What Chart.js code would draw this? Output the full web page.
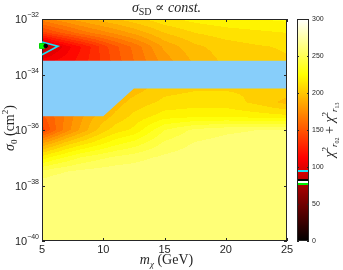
<!DOCTYPE html>
<html>
<head>
<meta charset="utf-8">
<script src="https://cdn.jsdelivr.net/npm/chart.js@4.4.0/dist/chart.umd.min.js"></script>
<style>
  html, body { margin: 0; padding: 0; background: #fff; }
  canvas { display: block; }
</style>
</head>
<body>
<canvas id="chart" width="343" height="270"></canvas>
<script>
// grid of the chi2 scan
const massGrid = [5, 6, 7, 8, 9, 10, 11, 12.5, 15, 17.5, 20, 22.5, 25];
const logSigmaGrid = [-40, -38, -37.5, -37, -36.5, -36, -35.5, -35, -34.5, -33.5, -33, -32.5, -32];
const chi2Grid = [
  [262, 262, 262, 262, 262, 262, 262, 262, 262, 262, 262, 262, 262],
  [262, 262, 262, 262, 262, 262, 262, 262, 262, 262, 262, 262, 262],
  [250, 254, 256, 258, 259, 260, 261, 261, 262, 262, 262, 262, 262],
  [220, 228, 234, 240, 244, 247, 250, 253, 258, 261, 262, 262, 262],
  [186, 195, 205, 212, 218, 224, 230, 236, 250, 257, 260, 261, 261],
  [140, 158, 172, 184, 195, 205, 212, 218, 240, 250, 254, 256, 256],
  [150, 160, 170, 180, 190, 196, 202, 210, 220, 222, 222, 220, 218],
  [150, 160, 170, 178, 185, 190, 196, 203, 210, 212, 212, 206, 197],
  [150, 160, 170, 178, 185, 190, 194, 196, 205, 207, 207, 207, 206],
  [108, 112, 116, 122, 130, 138, 148, 160, 180, 194, 202, 205, 207],
  [ 76,  96, 108, 118, 128, 140, 150, 162, 186, 198, 204, 207, 209],
  [140, 148, 155, 162, 168, 173, 178, 186, 200, 208, 212, 214, 216],
  [172, 178, 183, 188, 192, 196, 200, 205, 214, 219, 222, 224, 226]
];

// excluded (light blue) region
const excludedMass = [5, 25, 25, 12.5, 10, 5];
const excludedLogSigma = [-33.5, -33.5, -34.5, -34.5, -35.5, -35.5];

// cyan contour and best fit points
const contourMass = [5, 6.3, 5];
const contourLogSigma = [-32.83, -32.98, -33.29];
const bestFitPoint = [5.3, -32.97];
const greenPoint = [5, -32.97];

// ticks
const xTicks = [5, 10, 15, 20, 25];
const yTickExponents = [-40, -38, -36, -34, -32];
const cbTicks = [0, 50, 100, 150, 200, 250, 300];
const cbMarkerValues = [95, 82.5, 79.5, 77];
const cbMarkerColors = ['#19e1f5', '#000000', '#ffffff', '#00f000'];

const levelStep = 8;
const sans = '"Liberation Sans", Arial, sans-serif';
const serif = '"Liberation Serif", "DejaVu Serif", serif';
const axisColor = '#262626';

function hot(t) {
    t = Math.max(0, Math.min(1, t));
    const r = Math.min(1, t / 0.375);
    const g = Math.max(0, Math.min(1, (t - 0.375) / 0.375));
    const b = Math.max(0, Math.min(1, (t - 0.75) / 0.25));
    return [Math.round(r * 255), Math.round(g * 255), Math.round(b * 255)];
}

function findIdx(arr, v) {
    for (let i = 0; i < arr.length - 2; i++) {
        if (v < arr[i + 1]) return i;
    }
    return arr.length - 2;
}

// bilinear lookup in the scan grid
function chi2At(m, ls) {
    const i = findIdx(massGrid, m);
    const j = findIdx(logSigmaGrid, ls);
    let tx = (m - massGrid[i]) / (massGrid[i + 1] - massGrid[i]);
    let ty = (ls - logSigmaGrid[j]) / (logSigmaGrid[j + 1] - logSigmaGrid[j]);
    tx = Math.max(0, Math.min(1, tx));
    ty = Math.max(0, Math.min(1, ty));
    const a = chi2Grid[j][i], b = chi2Grid[j][i + 1];
    const c = chi2Grid[j + 1][i], d = chi2Grid[j + 1][i + 1];
    return (a * (1 - tx) + b * tx) * (1 - ty) + (c * (1 - tx) + d * tx) * ty;
}

function richWidth(ctx, parts) {
    let w = 0;
    parts.forEach(p => { ctx.font = p.font; w += ctx.measureText(p.text).width; });
    return w;
}

function drawRich(ctx, parts, x, y) {
    let cx = x;
    parts.forEach(p => {
        ctx.font = p.font;
        ctx.fillText(p.text, cx, y + (p.dy || 0));
        cx += ctx.measureText(p.text).width;
    });
}

const heatmapPlugin = {
    id: 'heatmap',
    beforeDatasetsDraw(chart) {
        const {ctx, chartArea: a, scales} = chart;
        const xs = scales.x, ys = scales.y;
        const left = Math.round(a.left), top = Math.round(a.top);
        const w = Math.round(a.right) - left, h = Math.round(a.bottom) - top;
        const img = ctx.createImageData(w, h);
        for (let px = 0; px < w; px++) {
            const m = xs.getValueForPixel(left + px + 0.5);
            for (let py = 0; py < h; py++) {
                const ls = Math.log10(ys.getValueForPixel(top + py + 0.5));
                const v = chi2At(m, ls);
                const q = Math.floor(v / levelStep) * levelStep + levelStep / 2;
                const c = hot(q / 300);
                const k = (py * w + px) * 4;
                img.data[k] = c[0]; img.data[k + 1] = c[1]; img.data[k + 2] = c[2]; img.data[k + 3] = 255;
            }
        }
        ctx.putImageData(img, left, top);

        // excluded region
        ctx.save();
        ctx.fillStyle = '#87cefa';
        ctx.beginPath();
        excludedMass.forEach((m, i) => {
            const px = xs.getPixelForValue(m);
            const py = ys.getPixelForValue(Math.pow(10, excludedLogSigma[i]));
            if (i === 0) ctx.moveTo(px, py); else ctx.lineTo(px, py);
        });
        ctx.closePath();
        ctx.fill();

        // frame and inward ticks
        ctx.strokeStyle = axisColor;
        ctx.lineWidth = 1;
        ctx.strokeRect(a.left + 0.5, a.top + 0.5, a.right - a.left - 1, a.bottom - a.top - 1);
        ctx.beginPath();
        xTicks.forEach(t => {
            const px = Math.round(xs.getPixelForValue(t)) + 0.5;
            ctx.moveTo(px, a.bottom); ctx.lineTo(px, a.bottom - 3);
            ctx.moveTo(px, a.top); ctx.lineTo(px, a.top + 3);
        });
        yTickExponents.forEach(e => {
            const py = Math.round(ys.getPixelForValue(Math.pow(10, e))) + 0.5;
            ctx.moveTo(a.left, py); ctx.lineTo(a.left + 3, py);
            ctx.moveTo(a.right, py); ctx.lineTo(a.right - 3, py);
        });
        ctx.stroke();
        ctx.restore();
    },
    afterDraw(chart) {
        const {ctx, chartArea: a, scales} = chart;
        const xs = scales.x, ys = scales.y, cb = scales.cb;
        ctx.save();
        ctx.fillStyle = axisColor;

        // x tick labels
        ctx.font = '11px ' + sans;
        ctx.textAlign = 'center';
        ctx.textBaseline = 'alphabetic';
        xTicks.forEach(t => ctx.fillText(String(t), xs.getPixelForValue(t), 253));

        // y tick labels 10^e
        ctx.textAlign = 'left';
        yTickExponents.forEach(e => {
            const py = ys.getPixelForValue(Math.pow(10, e));
            const parts = [
                {text: '10', font: '11px ' + sans, dy: 4},
                {text: '\u2212' + Math.abs(e), font: '7px ' + sans, dy: -2}
            ];
            drawRich(ctx, parts, a.left - 3 - richWidth(ctx, parts), py);
        });

        // title
        const title = [
            {text: '\u03c3', font: 'italic 14px ' + serif},
            {text: 'SD', font: '10px ' + serif, dy: 3},
            {text: ' \u221d ', font: '14px ' + serif},
            {text: 'const.', font: 'italic 14px ' + serif}
        ];
        const cx = (a.left + a.right) / 2;
        drawRich(ctx, title, cx - richWidth(ctx, title) / 2 + 2, 12);

        // x axis label
        const xLabel = [
            {text: 'm', font: 'italic 14px ' + serif},
            {text: '\u03c7', font: 'italic 9px ' + serif, dy: 3},
            {text: ' (GeV)', font: '14px ' + serif}
        ];
        drawRich(ctx, xLabel, cx - richWidth(ctx, xLabel) / 2 + 2, 264);

        // y axis label
        const yLabel = [
            {text: '\u03c3', font: 'italic 14px ' + serif},
            {text: '0', font: '9px ' + serif, dy: 3},
            {text: ' (cm', font: '14px ' + serif},
            {text: '2', font: '9px ' + serif, dy: -6},
            {text: ')', font: '14px ' + serif}
        ];
        ctx.save();
        ctx.translate(14, (a.top + a.bottom) / 2 - 2);
        ctx.rotate(-Math.PI / 2);
        drawRich(ctx, yLabel, -richWidth(ctx, yLabel) / 2, 0);
        ctx.restore();

        // colour bar
        const cbLeft = 297, cbRight = 309;
        const cbTop = Math.round(cb.getPixelForValue(300)), cbBottom = Math.round(cb.getPixelForValue(0));
        for (let py = cbTop; py < cbBottom; py++) {
            const c = hot(cb.getValueForPixel(py + 0.5) / 300);
            ctx.fillStyle = 'rgb(' + c.join(',') + ')';
            ctx.fillRect(cbLeft, py, cbRight - cbLeft, 1);
        }
        cbMarkerValues.forEach((v, i) => {
            ctx.fillStyle = cbMarkerColors[i];
            ctx.fillRect(cbLeft, Math.round(cb.getPixelForValue(v)) - 1, cbRight - cbLeft, 2);
        });
        ctx.strokeStyle = axisColor;
        ctx.lineWidth = 1;
        ctx.strokeRect(cbLeft + 0.5, cbTop + 0.5, cbRight - cbLeft - 1, cbBottom - cbTop - 1);
        ctx.beginPath();
        cbTicks.forEach(t => {
            const py = Math.round(cb.getPixelForValue(t)) + 0.5;
            ctx.moveTo(cbRight, py); ctx.lineTo(cbRight - 2, py);
            ctx.moveTo(cbLeft, py); ctx.lineTo(cbLeft + 2, py);
        });
        ctx.stroke();
        ctx.fillStyle = axisColor;
        ctx.font = '7px ' + sans;
        ctx.textAlign = 'left';
        ctx.textBaseline = 'middle';
        cbTicks.forEach(t => ctx.fillText(String(t), cbRight + 3, cb.getPixelForValue(t)));

        // colour bar label
        ctx.textBaseline = 'alphabetic';
        const cbLabel = [
            {text: '\u03c7', font: 'italic 14px ' + serif},
            {text: '2', font: '9px ' + serif, dy: -6},
            {text: 'r', font: 'italic 9px ' + serif, dy: 3},
            {text: '02', font: '6px ' + serif, dy: 5},
            {text: ' + ', font: '14px ' + serif},
            {text: '\u03c7', font: 'italic 14px ' + serif},
            {text: '2', font: '9px ' + serif, dy: -6},
            {text: 'r', font: 'italic 9px ' + serif, dy: 3},
            {text: '13', font: '6px ' + serif, dy: 5}
        ];
        ctx.save();
        ctx.translate(334, (a.top + a.bottom) / 2);
        ctx.rotate(-Math.PI / 2);
        drawRich(ctx, cbLabel, -richWidth(ctx, cbLabel) / 2, 0);
        ctx.restore();

        ctx.restore();
    }
};

const toPoints = (ms, ls) => ms.map((m, i) => ({x: m, y: Math.pow(10, ls[i])}));

new Chart(document.getElementById('chart'), {
    type: 'scatter',
    data: {
        datasets: [
            {
                label: 'best fit',
                data: [{x: bestFitPoint[0], y: Math.pow(10, bestFitPoint[1])}],
                backgroundColor: '#000000',
                borderColor: '#000000',
                pointRadius: 1.8,
                clip: false
            },
            {
                label: 'green',
                data: [{x: greenPoint[0], y: Math.pow(10, greenPoint[1])}],
                pointStyle: 'rect',
                backgroundColor: '#00ff00',
                borderColor: '#00d000',
                borderWidth: 1,
                pointRadius: 3.5,
                clip: false
            },
            {
                label: 'contour',
                data: toPoints(contourMass, contourLogSigma),
                showLine: true,
                borderColor: '#19e1f5',
                borderWidth: 1.6,
                pointRadius: 0,
                fill: false,
                clip: false
            }
        ]
    },
    options: {
        responsive: false,
        animation: false,
        layout: {padding: {left: 42, top: 19, right: 56, bottom: 29}},
        plugins: {legend: {display: false}, tooltip: {enabled: false}, title: {display: false}},
        scales: {
            x: {type: 'linear', min: 5, max: 25, display: false},
            y: {type: 'logarithmic', min: 1e-40, max: 1e-32, display: false},
            cb: {type: 'linear', axis: 'y', position: 'right', min: 0, max: 300, display: false}
        }
    },
    plugins: [heatmapPlugin]
});
</script>
</body>
</html>
